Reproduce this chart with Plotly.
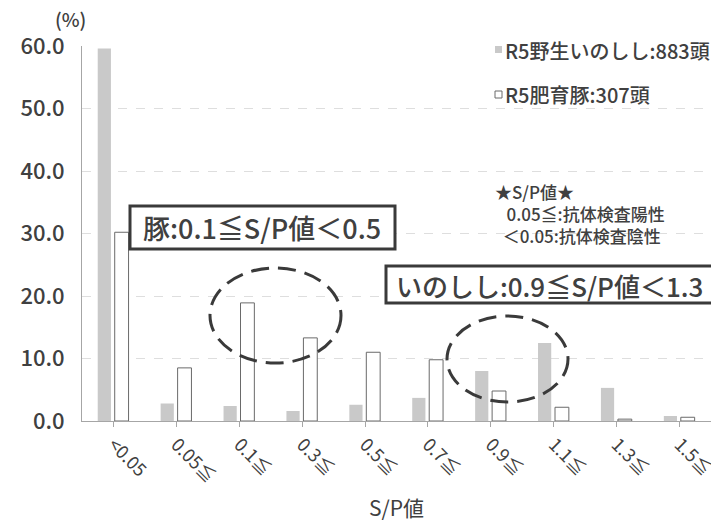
import plotly.graph_objects as go

categories = ["<0.05", "0.05≦", "0.1≦", "0.3≦", "0.5≦", "0.7≦", "0.9≦", "1.1≦", "1.3≦", "1.5≦"]
boar_pct = [59.6, 2.8, 2.4, 1.6, 2.6, 3.7, 8.0, 12.5, 5.3, 0.8]
pig_pct = [30.2, 8.5, 18.9, 13.3, 11.0, 9.8, 4.8, 2.2, 0.3, 0.6]
boar_name = "R5野生いのしし:883頭"
pig_name = "R5肥育豚:307頭"
y_ticks = [0, 10, 20, 30, 40, 50, 60]

W, H = 711, 522
L, R, T, B = 82, 0, 46, 101
PW, PH = W - L - R, H - T - B

def px(x):
    return (x - L) / PW

def py(y):
    return (H - B - y) / PH

FONT = "Noto Sans CJK JP"
TXT = "#404040"
NB = "\u00a0"

fig = go.Figure()
fig.add_trace(go.Bar(x=categories, y=boar_pct, name=boar_name,
                     marker=dict(color="#c9c9c9", line=dict(width=0)),
                     offset=-0.25, width=0.21))
fig.add_trace(go.Bar(x=categories, y=pig_pct, name=pig_name,
                     marker=dict(color="white", line=dict(color="#6a6a6a", width=1)),
                     offset=0.02, width=0.22))

shapes = []
annotations = []

def text(t, x, y, size, anchor="left", weight=500, align="left"):
    annotations.append(dict(text=t, xref="paper", yref="paper", x=px(x), y=py(y), xanchor=anchor,
                            yanchor="middle", showarrow=False, align=align,
                            font=dict(size=size, color=TXT, family=FONT, weight=weight)))

# legend markers + text
shapes.append(dict(type="rect", xref="paper", yref="paper", x0=px(495), x1=px(502), y0=py(53), y1=py(46),
                   fillcolor="#c9c9c9", line=dict(width=0)))
shapes.append(dict(type="rect", xref="paper", yref="paper", x0=px(495), x1=px(502), y0=py(98), y1=py(91),
                   fillcolor="white", line=dict(color="#6a6a6a", width=1)))
text(boar_name, 503, 50, 20)
text(pig_name, 503, 94, 20)

# S/P note (one block)
note = "★S/P値★<br>" + NB * 3 + "0.05≦:抗体検査陽性<br>" + NB * 2 + "＜0.05:抗体検査陰性"
text(note, 493, 214, 17)

# boxes
shapes.append(dict(type="rect", xref="paper", yref="paper", x0=px(130), x1=px(395), y0=py(249), y1=py(206),
                   fillcolor="white", line=dict(color="#3a3a3a", width=3)))
text("豚:0.1≦S/P値＜0.5", 262, 228, 27, anchor="center")
shapes.append(dict(type="rect", xref="paper", yref="paper", x0=px(386), x1=px(713), y0=py(303), y1=py(266),
                   fillcolor="white", line=dict(color="#3a3a3a", width=3)))
text("いのしし:0.9≦S/P値＜1.3", 549, 285, 26, anchor="center")

# dashed ellipses
shapes.append(dict(type="circle", xref="paper", yref="paper", x0=px(210), x1=px(341), y0=py(363), y1=py(268),
                   line=dict(color="#3a3a3a", width=3, dash="18px,9px")))
shapes.append(dict(type="circle", xref="paper", yref="paper", x0=px(447), x1=px(568), y0=py(402), y1=py(316),
                   line=dict(color="#3a3a3a", width=3, dash="18px,9px")))

text("(%)", 70, 18, 19, anchor="center", weight=500)
text("S/P値", 397, 507, 21, anchor="center", weight="normal")

fig.update_layout(
    width=W, height=H,
    margin=dict(l=L, r=R, t=T, b=B, autoexpand=False),
    paper_bgcolor="white", plot_bgcolor="white",
    showlegend=False,
    barmode="group",
    font=dict(family=FONT, color=TXT),
    shapes=shapes, annotations=annotations,
)
fig.update_xaxes(type="category", categoryorder="array", categoryarray=categories,
                 range=[-0.5, 9.5], tickangle=45,
                 showline=True, linecolor="#a6a6a6", linewidth=1,
                 ticks="outside", ticklen=5, tickcolor="#a6a6a6",
                 tickfont=dict(size=18, color=TXT, family=FONT),
                 showgrid=False)
fig.update_yaxes(range=[0, 60], tickvals=y_ticks, ticktext=[f"{v:.1f}" for v in y_ticks],
                 showline=True, linecolor="#a6a6a6", linewidth=1,
                 ticks="", ticklabelstandoff=12,
                 tickfont=dict(size=22, color=TXT, family=FONT, weight=500),
                 showgrid=True, gridcolor="#dedede", griddash="dash", gridwidth=1,
                 zeroline=False)

fig.write_html("out.html", config={"displayModeBar": False},
               post_script="document.body.style.margin='0px';document.body.style.overflow='hidden';")
